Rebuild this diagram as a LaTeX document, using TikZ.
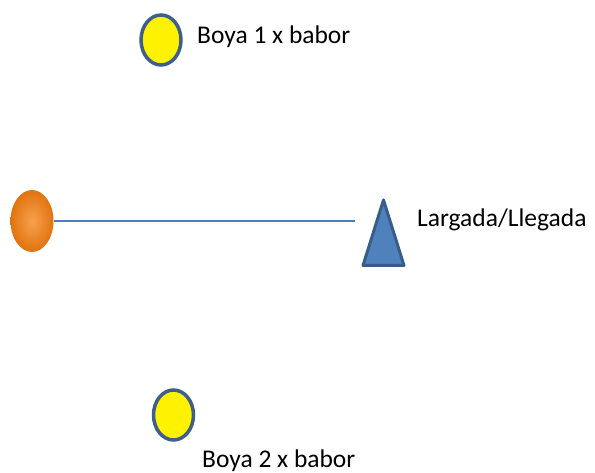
\documentclass[tikz,border=0pt]{standalone}
\usepackage{fontspec}
\setmainfont{Carlito}
\usetikzlibrary{shapes.geometric}
\definecolor{buoyline}{HTML}{3F5F8A}
\definecolor{markfill}{HTML}{4F81BD}
\definecolor{markline}{HTML}{385D8A}
\definecolor{courseline}{HTML}{4A7EBB}
\definecolor{orangein}{HTML}{F9A04E}
\definecolor{orangeout}{HTML}{E0740F}

\begin{document}
\begin{tikzpicture}[x=1pt, y=1pt,
    buoy/.style={ellipse, draw=buoyline, line width=3.5pt, fill=yellow,
      minimum width=40pt, minimum height=50pt, inner sep=0pt},
    pin/.style={ellipse, shading=radial, inner color=orangein,
      outer color=orangeout, minimum width=43pt, minimum height=62pt,
      inner sep=0pt},
    startmark/.style={draw=markline, fill=markfill, line width=3pt,
      line join=round},
    label/.style={anchor=base west, inner sep=0pt,
      font=\fontsize{25.5}{30}\selectfont}]

    \useasboundingbox (0,0) rectangle (595,473);

    % Define nodes
    \node[buoy]  (b1) at (161,433) {};
    \node[buoy]  (b2) at (173.5,58) {};
    \node[pin]   (p)  at (32,252) {};
    \coordinate       (e) at (355,252);

    % Start/finish mark
    \draw[startmark] (383.5,273) coordinate (sm) -- (404,207.5) -- (363,207.5) -- cycle;

    % Labels
    \node[label] (lb1) at (197,429.7) {Boya 1 x babor};
    \node[label] (lb2) at (202,5.5)   {Boya 2 x babor};
    \node[label] (lsm) at (417,246)   {Largada/Llegada};

    % Connect the nodes
    \draw[courseline, line width=1.2pt] (p.east) -- (e);

\end{tikzpicture}
\end{document}
